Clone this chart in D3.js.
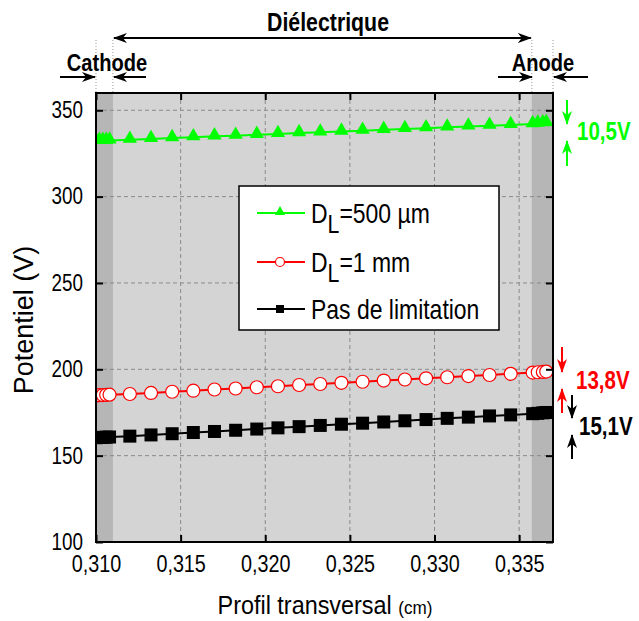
<!DOCTYPE html>
<html><head><meta charset="utf-8">
<script src="https://cdn.jsdelivr.net/npm/d3@7/dist/d3.min.js"></script>
<style>
html,body{margin:0;padding:0;background:#fff;}
svg{display:block;}
text{font-family:"Liberation Sans",Arial,sans-serif;fill:#000;}
</style></head><body>
<svg id="c" width="639" height="621"></svg>
<script>
// ---- data ----
const xValues = [0.3100,0.3102,0.3104,0.3106,0.3108,
  0.31200,0.31325,0.31450,0.31575,0.31700,0.31825,0.31950,0.32075,0.32200,0.32325,
  0.32450,0.32575,0.32700,0.32825,0.32950,0.33075,0.33200,0.33325,0.33450,
  0.3358,0.3361,0.3364,0.3366];
const greenValues = [332.2,332.3,332.4,332.4,332.5,
  333.0,333.4,333.9,334.4,334.9,335.3,335.8,336.3,336.8,337.2,
  337.7,338.2,338.7,339.2,339.6,340.1,340.6,341.1,341.5,
  342.0,342.3,342.5,342.7];
const redValues = [184.9,185.0,185.1,185.2,185.3,
  185.7,186.3,187.0,187.6,188.3,188.9,189.6,190.2,190.9,191.5,
  192.2,192.8,193.5,194.1,194.8,195.4,196.1,196.7,197.4,
  198.1,198.3,198.5,198.7];
const blackValues = [160.4,160.5,160.6,160.7,160.8,
  161.3,162.0,162.7,163.4,164.0,164.7,165.4,166.1,166.8,167.5,
  168.2,168.8,169.5,170.2,170.9,171.6,172.3,173.0,173.6,
  174.3,174.5,174.8,175.0];
const xTicks = [0.310,0.315,0.320,0.325,0.330,0.335];
const xTickLabels = ["0,310","0,315","0,320","0,325","0,330","0,335"];
const yTicks = [100,150,200,250,300,350];
const yTickLabels = ["100","150","200","250","300","350"];
const electrodeBands = [[0.310,0.311],[0.33575,0.337]];
const legendLabels = [["D","L","=500 µm"],["D","L","=1 mm"],["Pas de limitation"]];
const deltaLabels = ["10,5V","13,8V","15,1V"];
const regionLabels = ["Diélectrique","Cathode","Anode"];

// ---- layout ----
const svg = d3.select("#c");
const L=96,R=553,T=93,B=542;
const x = d3.scaleLinear().domain([0.310,0.337]).range([L,R]);
const y = d3.scaleLinear().domain([100,360]).range([B,T]);

// horizontal condensing around the text's anchor x
function narrow(sel, sx){
  sel.each(function(){
    const t=d3.select(this);
    const ax=+(t.attr("x")||0);
    const prev=t.attr("transform")||"";
    t.attr("transform",`${prev} translate(${ax},0) scale(${sx},1) translate(${-ax},0)`);
  });
  return sel;
}

const defs = svg.append("defs");
defs.append("clipPath").attr("id","clip").append("rect").attr("x",L).attr("y",T).attr("width",R-L).attr("height",B-T);
function mk(id,color){
  defs.append("marker").attr("id",id).attr("markerUnits","userSpaceOnUse")
    .attr("viewBox","0 0 14 10").attr("refX",13).attr("refY",5)
    .attr("markerWidth",14).attr("markerHeight",10).attr("orient","auto-start-reverse")
    .append("path").attr("d","M0,0 L14,5 L0,10 L4,5 Z").attr("fill",color);
}
mk("ak","#000"); mk("ag","#00ff00"); mk("ar","#ff0000");

// plot background
svg.append("rect").attr("x",L).attr("y",T).attr("width",R-L).attr("height",B-T).attr("fill","#d4d4d4");
svg.append("g").selectAll("rect").data(electrodeBands).join("rect")
  .attr("x",d=>x(d[0])).attr("y",T).attr("width",d=>x(d[1])-x(d[0])).attr("height",B-T).attr("fill","#b6b6b6");

// grid
const grid = svg.append("g").attr("stroke","#8a8a8a").attr("stroke-width",1).attr("stroke-dasharray","4,3");
grid.selectAll(".gx").data(xTicks.slice(1)).join("line").attr("x1",d=>x(d)).attr("x2",d=>x(d)).attr("y1",T).attr("y2",B);
grid.selectAll(".gy").data(yTicks.slice(1)).join("line").attr("y1",d=>y(d)).attr("y2",d=>y(d)).attr("x1",L).attr("x2",R);

// series
const plot = svg.append("g").attr("clip-path","url(#clip)");
const line = d3.line().x(d=>x(d[0])).y(d=>y(d[1]));
function pts(vals){ return xValues.map((xv,i)=>[xv,vals[i]]); }
const sBlack = pts(blackValues), sRed = pts(redValues), sGreen = pts(greenValues);
plot.append("path").attr("d",line(sBlack)).attr("fill","none").attr("stroke","#000").attr("stroke-width",2);
plot.selectAll(".sq").data(sBlack).join("rect").attr("x",d=>x(d[0])-6.5).attr("y",d=>y(d[1])-6.5).attr("width",13).attr("height",13).attr("fill","#000");
plot.append("path").attr("d",line(sRed)).attr("fill","none").attr("stroke","#ff0000").attr("stroke-width",2);
plot.selectAll(".ci").data(sRed).join("circle").attr("cx",d=>x(d[0])).attr("cy",d=>y(d[1])).attr("r",6.5).attr("fill","#fff").attr("stroke","#ff0000").attr("stroke-width",1.2);
plot.append("path").attr("d",line(sGreen)).attr("fill","none").attr("stroke","#00ff00").attr("stroke-width",2);
const tri = d3.symbol(d3.symbolTriangle,88);
plot.selectAll(".tr").data(sGreen).join("path").attr("d",tri).attr("transform",d=>`translate(${x(d[0])},${y(d[1])-1})`).attr("fill","#00ff00");

// legend
const lg = svg.append("g");
lg.append("rect").attr("x",239).attr("y",186).attr("width",260).attr("height",144).attr("fill","#fff").attr("stroke","#000").attr("stroke-width",1.5);
const rowsY=[213,262,309];
const cols=["#00ff00","#ff0000","#000"];
rowsY.forEach((ry,i)=>{
  lg.append("line").attr("x1",257).attr("x2",305).attr("y1",ry).attr("y2",ry).attr("stroke",cols[i]).attr("stroke-width",2);
  if(i===0) lg.append("path").attr("d",d3.symbol(d3.symbolTriangle,45)()).attr("transform",`translate(280,${ry-1})`).attr("fill",cols[i]);
  if(i===1) lg.append("circle").attr("cx",280).attr("cy",ry).attr("r",4.5).attr("fill","#fff").attr("stroke",cols[i]).attr("stroke-width",1.2);
  if(i===2) lg.append("rect").attr("x",276).attr("y",ry-4).attr("width",8).attr("height",8).attr("fill",cols[i]);
  const t = lg.append("text").attr("x",311).attr("y",ry+10).attr("font-size",28);
  const lab = legendLabels[i];
  if(lab.length===3){
    t.append("tspan").text(lab[0]);
    t.append("tspan").attr("dy",10).attr("font-size",26).text(lab[1]);
    t.append("tspan").attr("dy",-10).text(lab[2]);
  } else t.text(lab[0]);
  narrow(t,0.82);
});

// frame
svg.append("rect").attr("x",L).attr("y",T).attr("width",R-L).attr("height",B-T).attr("fill","none").attr("stroke","#000").attr("stroke-width",2);

// axes
const axB = svg.append("g").attr("transform",`translate(0,${B})`)
  .call(d3.axisBottom(x).tickValues(xTicks).tickFormat((d,i)=>xTickLabels[i]).tickSize(-7).tickPadding(14));
const axT = svg.append("g").attr("transform",`translate(0,${T})`)
  .call(d3.axisTop(x).tickValues(xTicks).tickFormat("").tickSize(-7));
const axL = svg.append("g").attr("transform",`translate(${L},0)`)
  .call(d3.axisLeft(y).tickValues(yTicks).tickFormat((d,i)=>yTickLabels[i]).tickSize(-7).tickPadding(13));
const axR = svg.append("g").attr("transform",`translate(${R},0)`)
  .call(d3.axisRight(y).tickValues(yTicks).tickFormat("").tickSize(-7));
[axB,axT,axL,axR].forEach(a=>{a.select(".domain").remove(); a.selectAll("line").attr("stroke","#000").attr("stroke-width",2);});
axB.selectAll("text").attr("font-size",23).attr("fill","#000").attr("font-family",null);
narrow(axB.selectAll("text"),0.86);
axL.selectAll("text").attr("font-size",23).attr("fill","#000").attr("font-family",null);
narrow(axL.selectAll("text"),0.82);

// axis titles
const xt = svg.append("text").attr("x",325).attr("y",614).attr("text-anchor","middle").attr("font-size",26);
xt.append("tspan").text("Profil transversal ");
xt.append("tspan").attr("font-size",19).text("(cm)");
narrow(xt,0.9);
svg.append("text").attr("transform","translate(33,320) rotate(-90)").attr("text-anchor","middle").attr("font-size",27).text("Potentiel (V)");

// region annotations
const an = svg.append("g");
an.selectAll(".dl").data([0.310,0.311,0.33575,0.337]).join("line")
  .attr("x1",d=>x(d)).attr("x2",d=>x(d)).attr("y1",40).attr("y2",T).attr("stroke","#999").attr("stroke-width",1).attr("stroke-dasharray","1,2");
function btext(tx,ty,anchor,size,str,color){
  const t=an.append("text").attr("x",tx).attr("y",ty).attr("text-anchor",anchor).attr("font-weight","bold").attr("font-size",size).style("fill",color||"#000").text(str);
  narrow(t,0.82);
  return t;
}
btext(328,31,"middle",26,regionLabels[0]);
an.append("line").attr("x1",x(0.311)+1).attr("x2",x(0.33575)-1).attr("y1",38).attr("y2",38).attr("stroke","#000").attr("stroke-width",2)
  .attr("marker-start","url(#ak)").attr("marker-end","url(#ak)");
btext(107,71,"middle",24.5,regionLabels[1]);
btext(543,71,"middle",24.5,regionLabels[2]);
function arrow(x1,y1,x2,y2,id,color){
  an.append("line").attr("x1",x1).attr("y1",y1).attr("x2",x2).attr("y2",y2).attr("stroke",color).attr("stroke-width",2).attr("marker-end",`url(#${id})`);
}
arrow(60,77,95,77,"ak","#000"); arrow(146,77,114,77,"ak","#000");
arrow(498,77,532,77,"ak","#000"); arrow(588,77,554,77,"ak","#000");

// delta annotations
arrow(567,100,567,124,"ag","#00ff00"); arrow(567,166,567,141,"ag","#00ff00");
btext(577,140,"start",25,deltaLabels[0],"#00ff00");
arrow(562,347,562,372,"ar","#ff0000"); arrow(562,413,562,389,"ar","#ff0000");
btext(576,389,"start",25,deltaLabels[1],"#ff0000");
arrow(572,395,572,418,"ak","#000"); arrow(572,459,572,435,"ak","#000");
btext(579,435,"start",25,deltaLabels[2]);
</script>
</body></html>
